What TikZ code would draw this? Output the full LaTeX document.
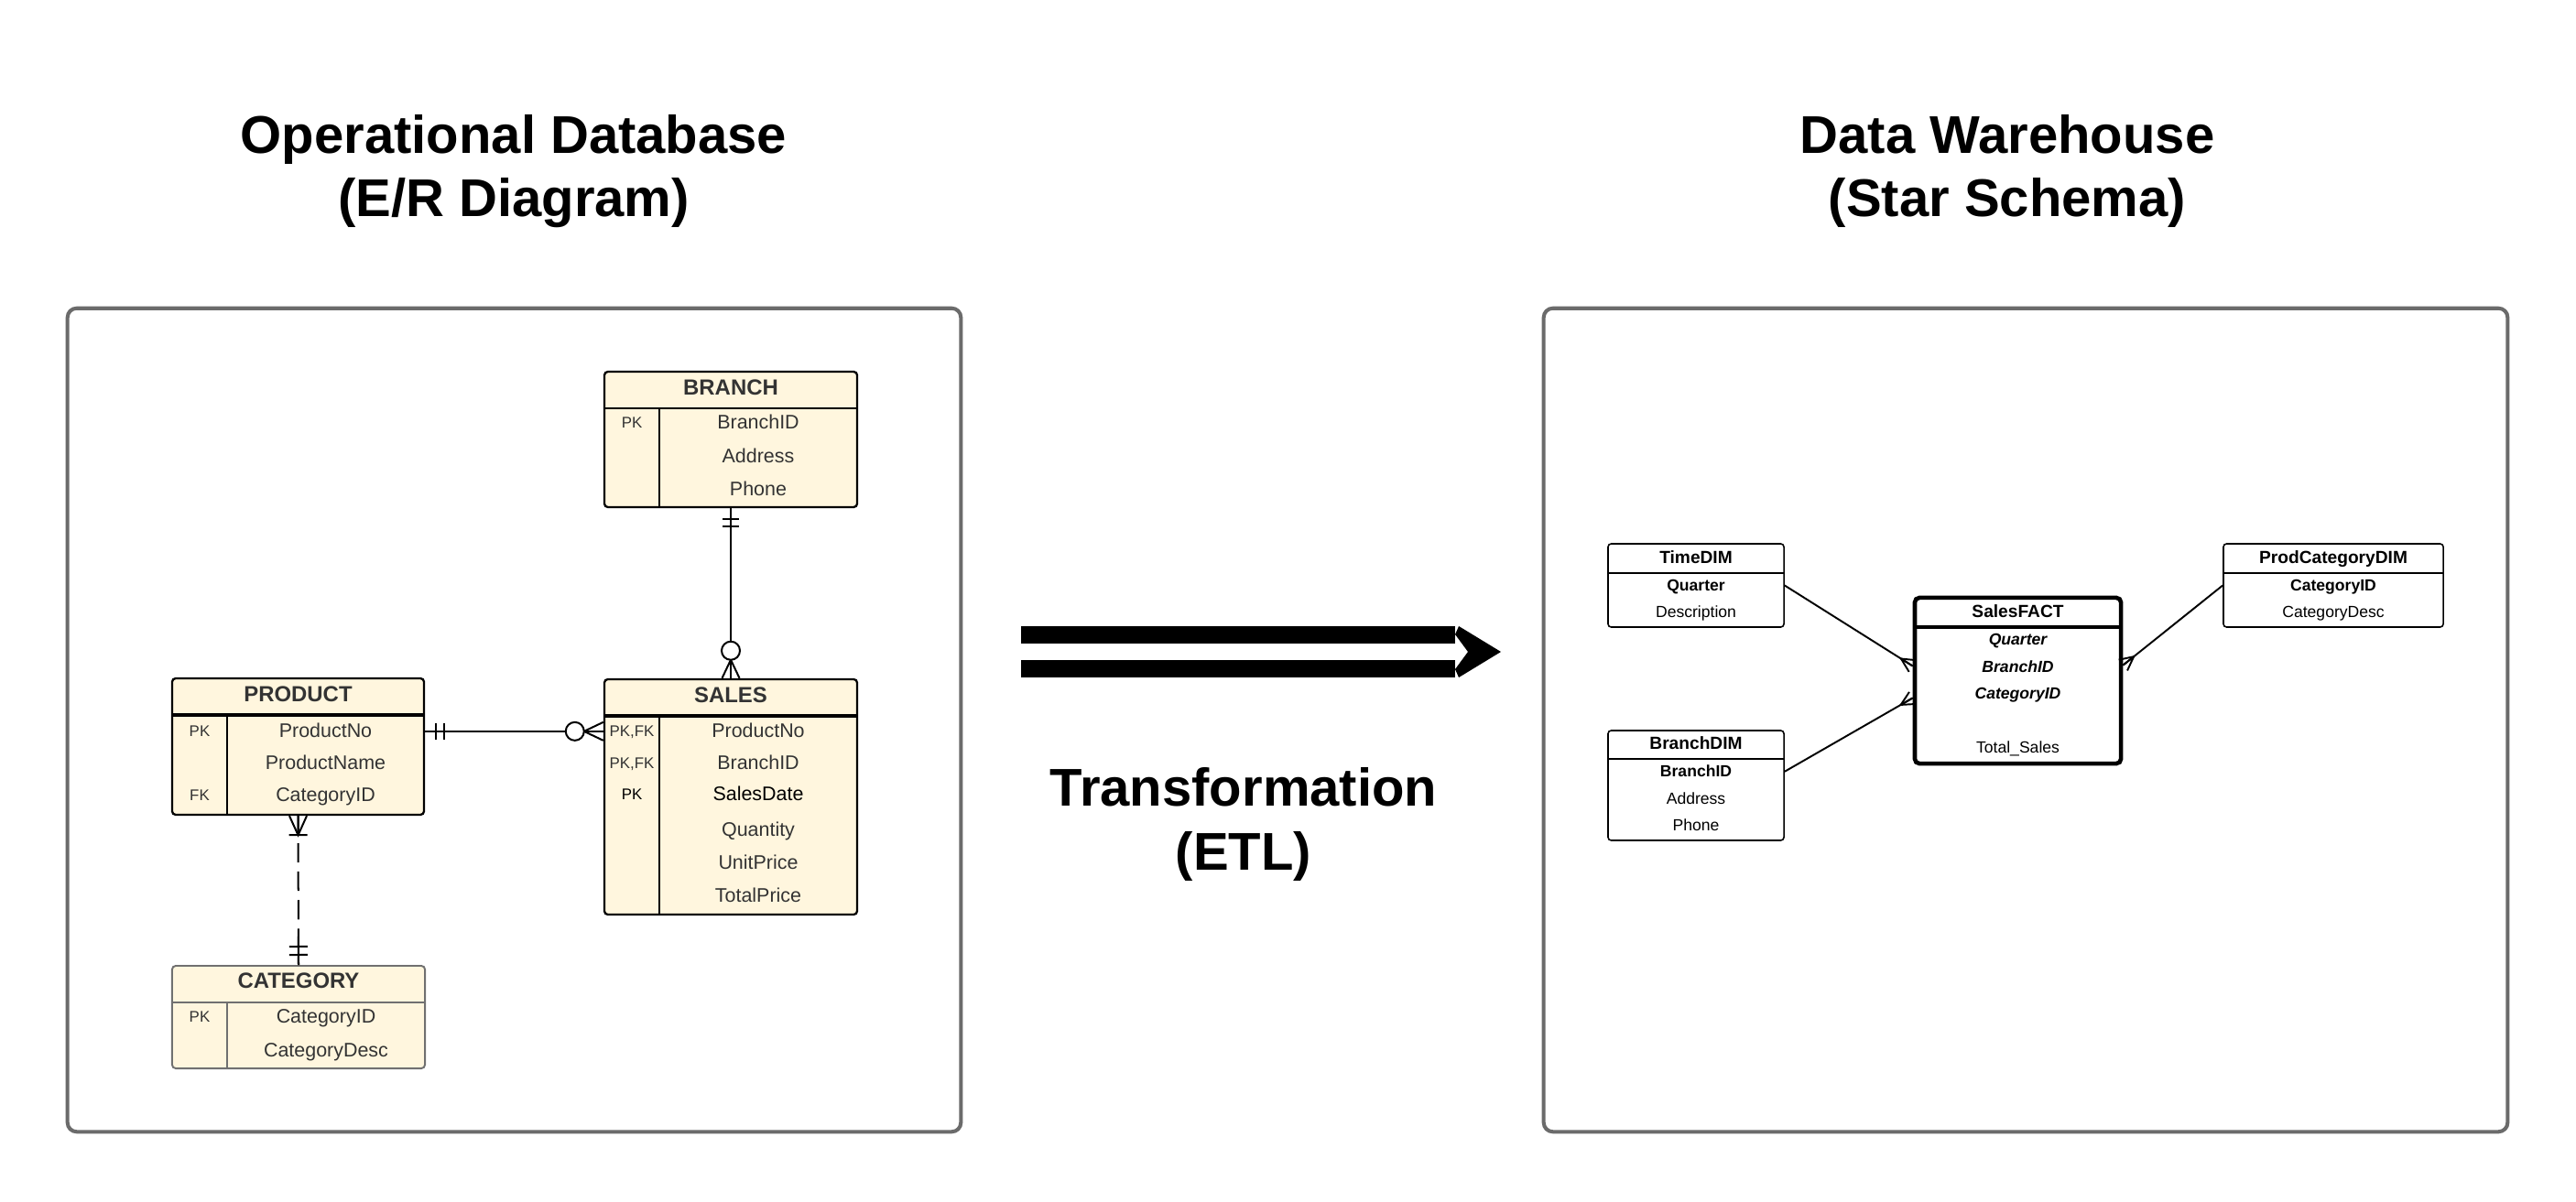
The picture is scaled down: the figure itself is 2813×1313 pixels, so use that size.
\documentclass[tikz,border=0pt]{standalone}
\usepackage{fontspec}
\setmainfont{Liberation Sans}
\usetikzlibrary{calc}
\definecolor{cream}{HTML}{FFF6DE}
\definecolor{ergray}{HTML}{333333}
\definecolor{boxgray}{HTML}{6B6B6B}
\definecolor{catgray}{HTML}{707070}

% crow's foot (many): #1 end on box, #2 other end, #3 apex distance, #4 half spread, #5 style
\newcommand\xcrowmany[5]{%
  \coordinate (cfapex) at ($(#1)!#3!(#2)$);
  \draw[#5] ($(#1)!#4!90:(#2)$) -- (cfapex) -- ($(#1)!#4!-90:(#2)$);
  \draw[#5] (#1) -- (cfapex);
}
% cross bar: #1 end, #2 other end, #3 distance, #4 half width
\newcommand\xcrossbar[4]{%
  \coordinate (cbpt) at ($(#1)!#3!(#2)$);
  \draw[conn] ($(cbpt)!#4!90:(#2)$) -- ($(cbpt)!#4!-90:(#2)$);
}
% ring: #1 end, #2 other end, #3 distance of centre
\newcommand\xring[3]{%
  \coordinate (rgpt) at ($(#1)!#3!(#2)$);
  \draw[conn, fill=white] (rgpt) circle (0.1cm);
}

\begin{document}
\begin{tikzpicture}[x=0.01cm,y=-0.01cm,
  panel/.style={draw=boxgray, line width=1.15pt, rounded corners=0.1cm, inner sep=0pt, fill=white},
  bigtitle/.style={font=\fontsize{16.5}{19.9}\selectfont\bfseries, align=center, anchor=base, inner sep=0pt},
  erent/.style={draw=black, fill=cream, line width=0.65pt, rounded corners=0.04cm, inner sep=0pt},
  erline/.style={draw=black, line width=0.6pt},
  erthick/.style={draw=black, line width=1.1pt},
  erhead/.style={font=\fontsize{6.8}{8}\selectfont\bfseries, text=ergray, inner sep=0pt, text height=4.87pt, text depth=0pt},
  erfield/.style={font=\fontsize{6.1}{7}\selectfont, text=ergray, inner sep=0pt, text height=4.37pt, text depth=0pt},
  erkey/.style={font=\fontsize{4.8}{6}\selectfont, text=ergray, inner sep=0pt, text height=3.44pt, text depth=0pt},
  conn/.style={draw=black, line width=0.57pt},
  dimbox/.style={draw=black, fill=white, line width=0.45pt, rounded corners=0.035cm, inner sep=0pt},
  factbox/.style={draw=black, fill=white, line width=1.3pt, rounded corners=0.05cm, inner sep=0pt},
  dimline/.style={draw=black, line width=0.45pt},
  dimhead/.style={font=\fontsize{5.45}{6.5}\selectfont\bfseries, inner sep=0pt, text height=3.9pt, text depth=0pt},
  dimkey/.style={font=\fontsize{5}{6}\selectfont\bfseries, inner sep=0pt, text height=3.58pt, text depth=0pt},
  factkey/.style={font=\fontsize{5}{6}\selectfont\bfseries\itshape, inner sep=0pt, text height=3.58pt, text depth=0pt},
  dimfield/.style={font=\fontsize{5}{6}\selectfont, inner sep=0pt, text height=3.58pt, text depth=0pt},
  starconn/.style={draw=black, line width=0.55pt}
]
\useasboundingbox (0,0) rectangle (2813,1313);
\fill[white] (0,0) rectangle (2813,1313);

% ---------- titles ----------
\node[bigtitle] (t-op) at (561,237) {Operational Database\\(E/R Diagram)};
\node[bigtitle] (t-dw) at (2192,237) {Data Warehouse\\(Star Schema)};
\node[bigtitle] (t-etl) at (1358,950) {Transformation\\(ETL)};

% ---------- panels ----------
\node[panel, minimum width=9.75cm, minimum height=8.99cm] (oppanel) at (561.5,786.5) {};
\node[panel, minimum width=10.52cm, minimum height=8.99cm] (dwpanel) at (2212,786.5) {};

% ---------- ETL arrow ----------
\fill[black] (1115,684) rectangle (1589,703);
\fill[black] (1115,721) rectangle (1589,740);
\fill[black] (1593,684) -- (1639,712) -- (1593,740) -- (1589,731) -- (1603,712) -- (1589,693) -- cycle;

% ---------- E/R entities ----------
% BRANCH
\node[erent, minimum width=2.76cm, minimum height=1.48cm] (branch) at (798,480) {};
\draw[erline] (660,446) -- (936,446);
\draw[erline] (720,446) -- (720,554);
\node[erhead] (br-t) at (798,423) {BRANCH};
\node[erkey] (br-k1) at (690,461) {PK};
\node[erfield] (br-f1) at (828,461) {BranchID};
\node[erfield] (br-f2) at (828,498) {Address};
\node[erfield] (br-f3) at (828,534) {Phone};

% SALES
\node[erent, minimum width=2.76cm, minimum height=2.57cm] (sales) at (798,870.5) {};
\draw[erthick] (660,782) -- (936,782);
\draw[erline] (720,782) -- (720,999);
\node[erhead] (sa-t) at (798,759) {SALES};
\node[erkey] (sa-k1) at (690,798) {PK,FK};
\node[erkey] (sa-k2) at (690,833) {PK,FK};
\node[erkey, text=black] (sa-k3) at (690,867) {PK};
\node[erfield] (sa-f1) at (828,798) {ProductNo};
\node[erfield] (sa-f2) at (828,833) {BranchID};
\node[erfield, text=black] (sa-f3) at (828,867) {SalesDate};
\node[erfield] (sa-f4) at (828,906) {Quantity};
\node[erfield] (sa-f5) at (828,942) {UnitPrice};
\node[erfield] (sa-f6) at (828,978) {TotalPrice};

% PRODUCT
\node[erent, minimum width=2.75cm, minimum height=1.49cm] (product) at (325.5,815.5) {};
\draw[erthick] (188,781) -- (463,781);
\draw[erline] (248,781) -- (248,890);
\node[erhead] (pr-t) at (325.5,758) {PRODUCT};
\node[erkey] (pr-k1) at (218,798) {PK};
\node[erkey] (pr-k3) at (218,868) {FK};
\node[erfield] (pr-f1) at (355.5,798) {ProductNo};
\node[erfield] (pr-f2) at (355.5,833) {ProductName};
\node[erfield] (pr-f3) at (355.5,868) {CategoryID};

% CATEGORY
\node[erent, draw=catgray, line width=0.55pt, minimum width=2.76cm, minimum height=1.12cm] (category) at (326,1111) {};
\draw[erline, draw=catgray, line width=0.55pt] (188,1095) -- (464,1095);
\draw[erline, draw=catgray, line width=0.55pt] (248,1095) -- (248,1167);
\node[erhead] (ca-t) at (326,1071) {CATEGORY};
\node[erkey] (ca-k1) at (218,1110) {PK};
\node[erfield] (ca-f1) at (356,1110) {CategoryID};
\node[erfield] (ca-f2) at (356,1147) {CategoryDesc};

% ---------- E/R relationships ----------
% BRANCH -- SALES (one and only one -- zero or many)
\coordinate (bsA) at (branch.south);
\coordinate (bsB) at (sales.north);
\draw[conn] (bsA) -- (bsB);
\xcrossbar{bsA}{bsB}{0.12cm}{0.09cm}
\xcrossbar{bsA}{bsB}{0.20cm}{0.09cm}
\xcrowmany{bsB}{bsA}{0.20cm}{0.095cm}{conn}
\xring{bsB}{bsA}{0.30cm}

% PRODUCT -- SALES
\coordinate (psA) at ($(product.north east)!0.39!(product.south east)$);
\coordinate (psB) at (psA -| sales.west);
\draw[conn] (psA) -- (psB);
\xcrossbar{psA}{psB}{0.115cm}{0.09cm}
\xcrossbar{psA}{psB}{0.21cm}{0.09cm}
\xcrowmany{psB}{psA}{0.21cm}{0.1cm}{conn}
\xring{psB}{psA}{0.31cm}

% PRODUCT -- CATEGORY (one or many -- one and only one), dashed
\coordinate (pcA) at (product.south);
\coordinate (pcB) at (category.north);
\draw[conn, dash pattern=on 0.21cm off 0.1cm, dash phase=-0.3cm] (pcA) -- (pcB);
\draw[conn] (pcB) -- ($(pcB)!0.31cm!(pcA)$);
\xcrowmany{pcA}{pcB}{0.21cm}{0.095cm}{conn}
\xcrossbar{pcA}{pcB}{0.21cm}{0.1cm}
\xcrossbar{pcB}{pcA}{0.11cm}{0.1cm}
\xcrossbar{pcB}{pcA}{0.20cm}{0.1cm}

% ---------- Star schema ----------
% TimeDIM
\node[dimbox, minimum width=1.92cm, minimum height=0.91cm] (timedim) at (1852,639.5) {};
\draw[dimline] (1756,626) -- (1948,626);
\node[dimhead] (td-t) at (1852,609) {TimeDIM};
\node[dimkey] (td-f1) at (1852,639) {Quarter};
\node[dimfield] (td-f2) at (1852,668) {Description};

% BranchDIM
\node[dimbox, minimum width=1.92cm, minimum height=1.20cm] (branchdim) at (1852,858) {};
\draw[dimline] (1756,829) -- (1948,829);
\node[dimhead] (bd-t) at (1852,812) {BranchDIM};
\node[dimkey] (bd-f1) at (1852,842) {BranchID};
\node[dimfield] (bd-f2) at (1852,872) {Address};
\node[dimfield] (bd-f3) at (1852,901) {Phone};

% SalesFACT
\node[factbox, minimum width=2.25cm, minimum height=1.81cm] (salesfact) at (2203.5,743.5) {};
\draw[draw=black, line width=1.0pt] (2091,685) -- (2316,685);
\node[dimhead] (sf-t) at (2203.5,668) {SalesFACT};
\node[factkey] (sf-f1) at (2203.5,698) {Quarter};
\node[factkey] (sf-f2) at (2203.5,728) {BranchID};
\node[factkey] (sf-f3) at (2203.5,757) {CategoryID};
\node[dimfield] (sf-f4) at (2203.5,816) {Total\_Sales};

% ProdCategoryDIM
\node[dimbox, minimum width=2.40cm, minimum height=0.91cm] (prodcatdim) at (2548,639.5) {};
\draw[dimline] (2428,626) -- (2668,626);
\node[dimhead] (pd-t) at (2548,609) {ProdCategoryDIM};
\node[dimkey] (pd-f1) at (2548,639) {CategoryID};
\node[dimfield] (pd-f2) at (2548,668) {CategoryDesc};

% star connectors
\coordinate (s1A) at (timedim.east);
\coordinate (s1B) at ($(salesfact.north west)!0.414!(salesfact.south west)$);
\draw[starconn] (s1A) -- (s1B);
\xcrowmany{s1B}{s1A}{0.15cm}{0.075cm}{starconn}

\coordinate (s2A) at ($(branchdim.north east)!0.375!(branchdim.south east)$);
\coordinate (s2B) at ($(salesfact.north west)!0.602!(salesfact.south west)$);
\draw[starconn] (s2A) -- (s2B);
\xcrowmany{s2B}{s2A}{0.15cm}{0.075cm}{starconn}

\coordinate (s3A) at (prodcatdim.west);
\coordinate (s3B) at ($(salesfact.north east)!0.409!(salesfact.south east)$);
\draw[starconn] (s3A) -- (s3B);
\xcrowmany{s3B}{s3A}{0.15cm}{0.075cm}{starconn}
\end{tikzpicture}
\end{document}
